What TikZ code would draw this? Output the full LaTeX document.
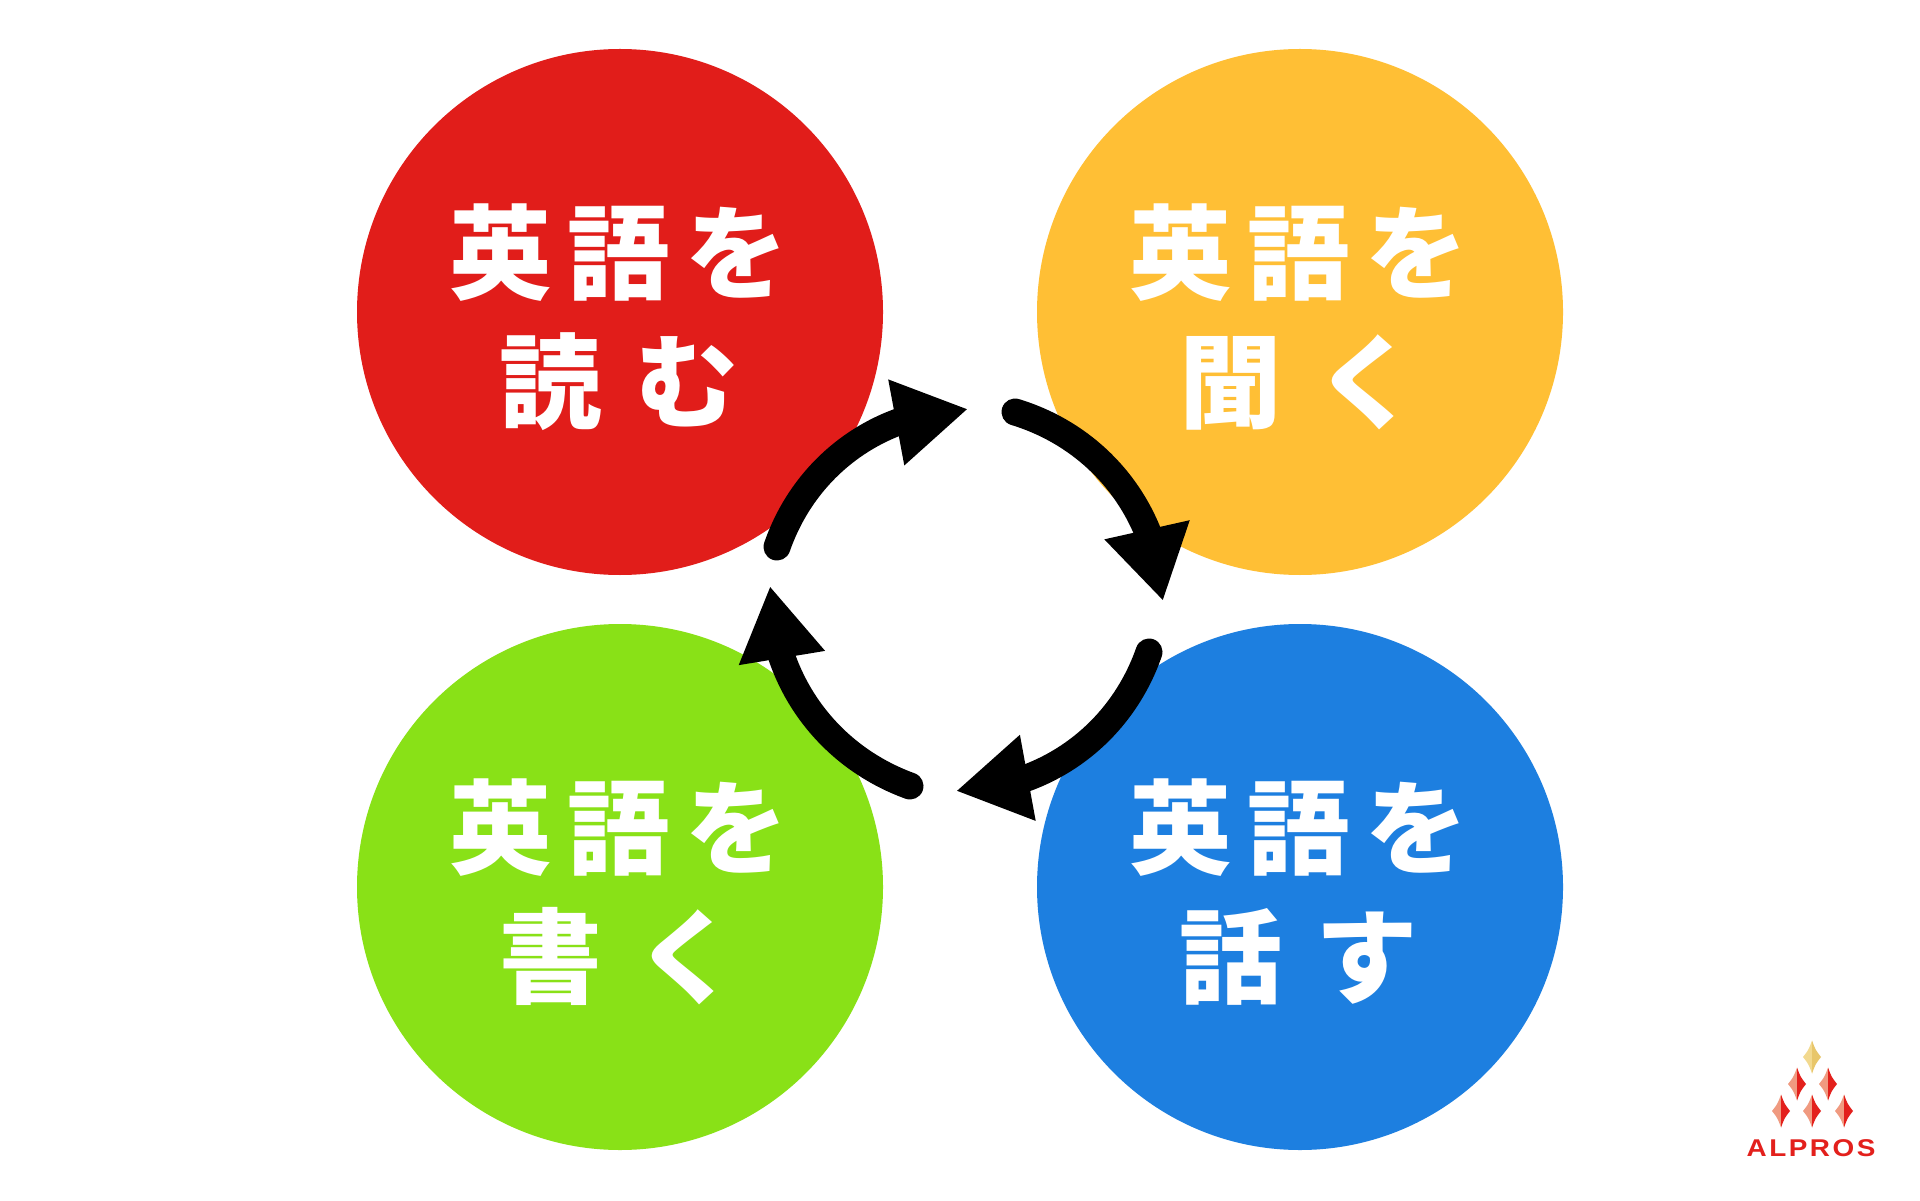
\documentclass[tikz,border=0pt]{standalone}
\usepackage{fontspec}
\usetikzlibrary{arrows.meta,bending}
\newfontfamily\jpfont[LetterSpace=15]{Noto Sans CJK JP}
\newfontfamily\logofont[LetterSpace=9]{Liberation Sans}
\definecolor{readred}{HTML}{E11D1A}
\definecolor{listenyellow}{HTML}{FFBF35}
\definecolor{writegreen}{HTML}{89E117}
\definecolor{speakblue}{HTML}{1D7FE0}
\definecolor{logored}{HTML}{E3201C}
\definecolor{logopink}{HTML}{F09A80}
\definecolor{logogold}{HTML}{F2D98F}
\definecolor{logogoldd}{HTML}{E8C66A}
\tikzset{
  skill/.style={circle, minimum size=5.26cm, inner sep=0pt},
  skilltext/.style={text=white, align=center, inner sep=0pt,
    font=\jpfont\bfseries\fontsize{29.2}{36}\selectfont},
  cycle/.style={line width=0.27cm, line cap=round,
    -{Triangle[length=0.73cm, width=0.82cm, sharp]}},
  cyclebend/.style={bend left=35, looseness=0.95},
}
\newcommand{\logodiamond}[4]{%
  \fill[#3] (#1,#2+0.165) .. controls (#1-0.035,#2+0.07) .. (#1-0.09,#2)
    .. controls (#1-0.035,#2-0.07) .. (#1,#2-0.165) -- cycle;
  \fill[#4] (#1,#2+0.165) .. controls (#1+0.035,#2+0.07) .. (#1+0.09,#2)
    .. controls (#1+0.035,#2-0.07) .. (#1,#2-0.165) -- cycle;
}
\begin{document}
\begin{tikzpicture}
  \useasboundingbox (0,0) rectangle (19.2,12);
  \fill[white] (0,0) rectangle (19.2,12);

  % 四つの円
  \node[skill, fill=readred] (read) at (6.2,8.88) {};
  \node[skill, fill=listenyellow] (listen) at (13.0,8.88) {};
  \node[skill, fill=writegreen] (write) at (6.2,3.13) {};
  \node[skill, fill=speakblue] (speak) at (13.0,3.13) {};

  % 文字
  \node[skilltext] (readtext) at (6.19,8.83) {英語を\\[0.03cm]読\hspace{0.34cm}む};
  \node[skilltext] (listentext) at (12.99,8.83) {英語を\\[0.03cm]聞\hspace{0.34cm}く};
  \node[skilltext] (writetext) at (6.19,3.08) {英語を\\[0.03cm]書\hspace{0.34cm}く};
  \node[skilltext] (speaktext) at (12.99,3.08) {英語を\\[0.03cm]話\hspace{0.34cm}す};

  % 矢印の端点
  \coordinate (s1) at (7.77,6.53);
  \coordinate (e1) at (9.68,7.91);
  \coordinate (s2) at (10.15,7.88);
  \coordinate (e2) at (11.63,5.99);
  \coordinate (s3) at (11.49,5.48);
  \coordinate (e3) at (9.56,4.09);
  \coordinate (s4) at (9.10,4.14);
  \coordinate (e4) at (7.70,6.14);

  % 矢印
  \draw[cycle] (s1) to[cyclebend] (e1);
  \draw[cycle] (s2) to[cyclebend] (e2);
  \draw[cycle] (s3) to[cyclebend] (e3);
  \draw[cycle] (s4) to[cyclebend] (e4);

  % ロゴ
  \logodiamond{18.12}{1.43}{logogold}{logogoldd}
  \foreach \x/\y in {17.97/1.16, 18.28/1.16, 17.81/0.89, 18.12/0.89, 18.44/0.89}
    \logodiamond{\x}{\y}{logopink}{logored};
  \node[text=logored, inner sep=0pt, xscale=1.15, font=\logofont\bfseries\fontsize{6.9}{8}\selectfont] (logo) at (18.11,0.52) {ALPROS};
\end{tikzpicture}
\end{document}
